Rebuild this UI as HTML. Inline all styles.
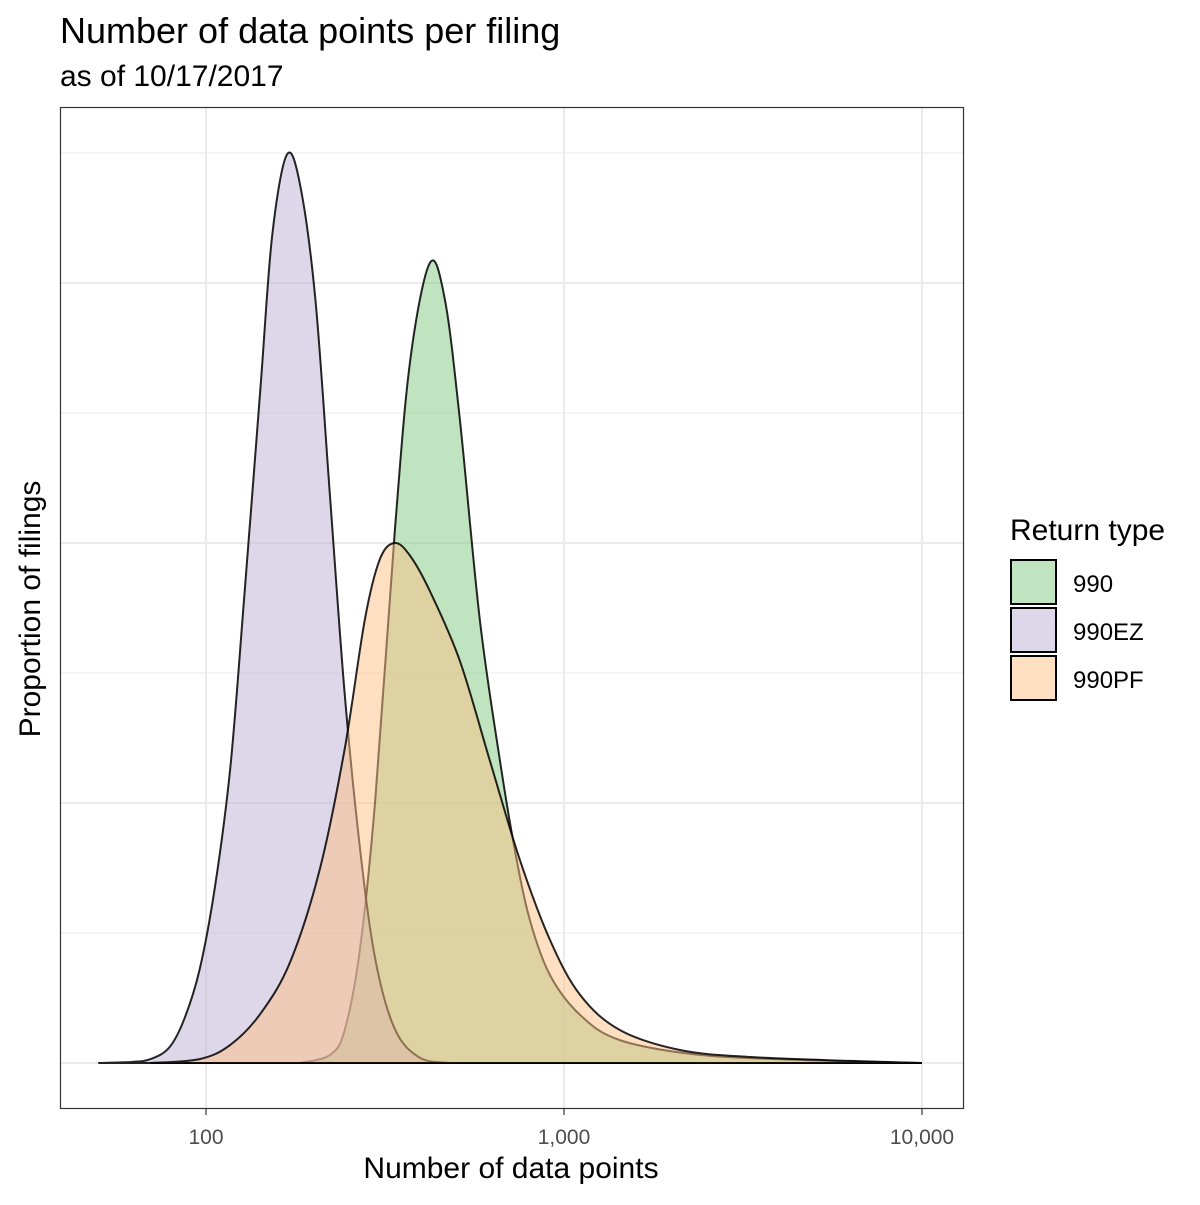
<!DOCTYPE html>
<html><head><meta charset="utf-8"><style>
body{margin:0;background:#fff}
svg text{font-family:"Liberation Sans",Arial,sans-serif}
</style></head><body>
<svg width="1200" height="1200" viewBox="0 0 1200 1200" xmlns="http://www.w3.org/2000/svg">
<rect width="1200" height="1200" fill="#fff"/>
<text x="60" y="43" font-size="36" fill="#000">Number of data points per filing</text>
<text x="60" y="86" font-size="30" fill="#000">as of 10/17/2017</text>
<g id="grid"></g>
<g id="areas"></g>
<rect x="60.5" y="107.5" width="903" height="1001" fill="none" stroke="#333" stroke-width="1.2"/>
<g id="xticks"></g>
<text x="511" y="1178" font-size="30" text-anchor="middle">Number of data points</text>
<text transform="translate(40,609) rotate(-90)" font-size="30" text-anchor="middle">Proportion of filings</text>
<g>
<text x="1010" y="540" font-size="30">Return type</text>
<g><rect x="1011" y="560" width="45" height="44" fill="#bfe4bf" stroke="#000" stroke-width="2"/><text x="1073" y="592" font-size="24">990</text></g>
<g><rect x="1011" y="608" width="45" height="44" fill="#ded6e9" stroke="#000" stroke-width="2"/><text x="1073" y="640" font-size="24">990EZ</text></g>
<g><rect x="1011" y="656" width="45" height="44" fill="#fedfc2" stroke="#000" stroke-width="2"/><text x="1073" y="688" font-size="24">990PF</text></g>
</g>
</svg>
<script>
const xTicks=[100,1000,10000];
const xTickLabels=["100","1,000","10,000"];
const ezX=[50,62,70,79,87,96,106,117,128,142,153,168,183,202,222,244,269,297,337,396,480];
const ezY=[0,0.004,0.015,0.06,0.17,0.36,0.68,1.14,1.8,2.6,3.18,3.492,3.38,2.94,2.18,1.42,0.83,0.4,0.13,0.02,0];
const f990X=[183,222,244,269,297,337,372,422,465,512,582,662,729,803,914,1109,1432,2399,4560,10000];
const f990Y=[0,0.031,0.127,0.435,1.012,2.05,2.704,3.077,2.935,2.473,1.704,1.165,0.819,0.55,0.338,0.185,0.088,0.031,0.012,0];
const pfX=[70,96,117,142,172,208,244,278,306,337,372,422,512,621,753,914,1109,1432,2108,3311,6295,10000];
const pfY=[0,0.015,0.07,0.19,0.39,0.746,1.208,1.708,1.938,2.0,1.95,1.815,1.546,1.162,0.781,0.473,0.262,0.127,0.05,0.023,0.008,0];
const ns="http://www.w3.org/2000/svg";
const X=v=>206+(Math.log10(v)-2)*358;
const Y=d=>1063-d*260;
const grid=document.getElementById('grid');
function line(x1,y1,x2,y2,c,w){const l=document.createElementNS(ns,'line');l.setAttribute('x1',x1);l.setAttribute('y1',y1);l.setAttribute('x2',x2);l.setAttribute('y2',y2);l.setAttribute('stroke',c);l.setAttribute('stroke-width',w);return l;}
for(let k=0;k<=7;k++){const y=Y(k*0.5);const l=line(61,y,963,y,'#ebebeb',k%2?1:2);

grid.appendChild(l);}
const xt=document.getElementById('xticks');
xTicks.forEach((v,i)=>{const l=line(X(v),108,X(v),1108,'#ebebeb',2);

grid.appendChild(l);
const t=line(X(v),1108,X(v),1115,'#333',1.2);

xt.appendChild(t);
const tx=document.createElementNS(ns,'text');tx.setAttribute('x',X(v));tx.setAttribute('y',1144);tx.setAttribute('font-size','21');tx.setAttribute('fill','#4d4d4d');tx.setAttribute('text-anchor','middle');tx.textContent=xTickLabels[i];

xt.appendChild(tx);});
function path(xs,ys){const p=xs.map((x,i)=>[X(x),Y(ys[i])]);let d='M'+p[0][0]+','+p[0][1];
for(let i=0;i<p.length-1;i++){const p0=p[i-1]||p[i],p1=p[i],p2=p[i+1],p3=p[i+2]||p2;
d+=' C'+(p1[0]+(p2[0]-p0[0])/6)+','+(p1[1]+(p2[1]-p0[1])/6)+' '+(p2[0]-(p3[0]-p1[0])/6)+','+(p2[1]-(p3[1]-p1[1])/6)+' '+p2[0]+','+p2[1];}
return d+' Z';}
const areas=document.getElementById('areas');
[[f990X,f990Y,'#7fc97f','area-990'],[ezX,ezY,'#beaed4','area-990ez'],[pfX,pfY,'#fdc086','area-990pf']].forEach(s=>{
const p=document.createElementNS(ns,'path');p.setAttribute('d',path(s[0],s[1]));p.setAttribute('fill',s[2]);p.setAttribute('fill-opacity','0.5');p.setAttribute('stroke','#000');p.setAttribute('stroke-width','2');p.setAttribute('stroke-opacity','0.85');

areas.appendChild(p);});
</script>
</body></html>
